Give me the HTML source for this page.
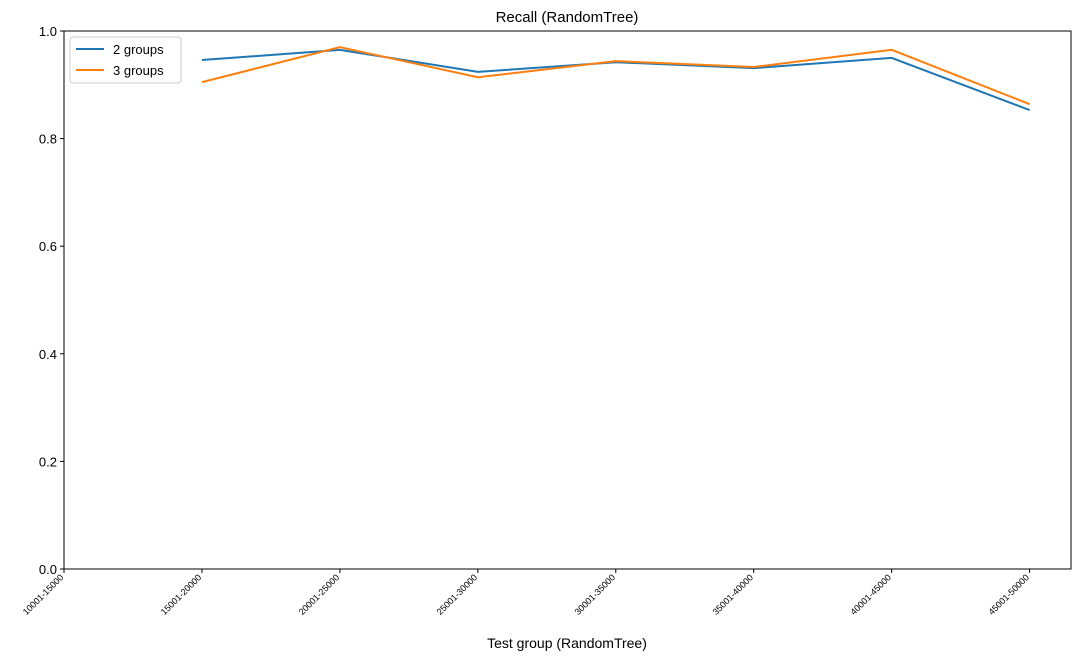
<!DOCTYPE html>
<html><head><meta charset="utf-8"><style>
body{margin:0;background:#fff;}
svg{display:block;font-family:"Liberation Sans","DejaVu Sans",sans-serif;}
</style></head><body>
<svg id="chart" width="1080" height="661" xmlns="http://www.w3.org/2000/svg">
<rect width="1080" height="661" fill="#fff"/>
<text x="567" y="22" text-anchor="middle" font-size="15">Recall (RandomTree)</text>
<text x="567" y="648" text-anchor="middle" font-size="14">Test group (RandomTree)</text>
<g id="axes"></g>
<g id="series"></g>
<rect x="64" y="31" width="1007" height="538" fill="none" stroke="#000" stroke-width="1"/>
<g>
<rect x="70" y="37" width="111" height="46" rx="3" fill="#fff" stroke="#ccc"/>
<line x1="76" y1="49" x2="104" y2="49" stroke="#1f77b4" stroke-width="2"/>
<text x="113" y="54" font-size="13">2 groups</text>
<line x1="76" y1="70" x2="104" y2="70" stroke="#ff7f0e" stroke-width="2"/>
<text x="113" y="75" font-size="13">3 groups</text>
</g>
</svg>
<script>
const categories=["10001-15000","15001-20000","20001-25000","25001-30000","30001-35000","35001-40000","40001-45000","45001-50000"];
const series2=[null,0.946,0.965,0.924,0.942,0.931,0.950,0.853];
const series3=[null,0.905,0.970,0.914,0.944,0.933,0.965,0.864];
const yTicks=[0,0.2,0.4,0.6,0.8,1.0];
const yTickLabels=["0.0","0.2","0.4","0.6","0.8","1.0"];

const NS="http://www.w3.org/2000/svg";
const L=64,R=1071,T=31,B=569;
function xs(i){return L+(i-0)/(7.3-0)*(R-L);}
function ys(v){return B-(v-0)/(1-0)*(B-T);}
function mk(tag,attrs,parent){const e=document.createElementNS(NS,tag);for(const k in attrs)e.setAttribute(k,attrs[k]);parent.appendChild(e);return e;}
const axes=document.getElementById('axes');
yTicks.forEach((v,i)=>{
  const y=ys(v);
  const t=mk('line',{x1:L-4,x2:L,y1:y,y2:y,stroke:'#000'},axes);
  
  
  const tx=mk('text',{x:L-7,y:y+5,'text-anchor':'end','font-size':'13'},axes);
  tx.textContent=yTickLabels[i];
  
  
});
categories.forEach((c,i)=>{
  const x=xs(i);
  const t=mk('line',{x1:x,x2:x,y1:B,y2:B+4,stroke:'#000'},axes);
  
  
  const tx=mk('text',{x:x,y:B+9,'text-anchor':'end','font-size':'9',transform:`rotate(-45 ${x} ${B+9})`},axes);
  tx.textContent=c;
  
  
});
const sg=document.getElementById('series');
[[series2,'#1f77b4','line-2-groups'],[series3,'#ff7f0e','line-3-groups']].forEach(([d,col,name])=>{
  let pts=[];
  d.forEach((v,i)=>{if(v!=null)pts.push(xs(i)+','+ys(v));});
  const p=mk('polyline',{points:pts.join(' '),fill:'none',stroke:col,'stroke-width':'2'},sg);
  
  
});
</script>
</body></html>
